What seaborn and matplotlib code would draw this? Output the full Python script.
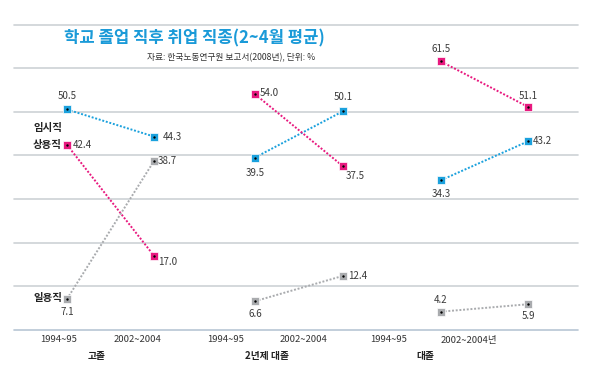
import matplotlib
matplotlib.use("Agg")

import matplotlib.pyplot as plt
import pandas as pd
import seaborn as sns

# --- dados ----------------------------------------------------------------
grupos = ["고졸", "2년제 대졸", "대졸"]
periodos = ["1994~95", "2002~2004"]
series = ["임시직", "상용직", "일용직"]

임시직 = [50.5, 44.3, 39.5, 50.1, 34.3, 43.2]
상용직 = [42.4, 17.0, 54.0, 37.5, 61.5, 51.1]
일용직 = [7.1, 38.7, 6.6, 12.4, 4.2, 5.9]

tick_labels = ["1994~95", "2002~2004", "1994~95", "2002~2004", "1994~95", "2002~2004년"]

# posições horizontais (layout, em px a partir da margem esquerda)
x_pontos = [53, 140, 241, 329, 427, 514]
x_ticks = [45, 124, 212, 290, 375, 455]
x_grupos = [83, 253, 411]

cores = {"임시직": "#1ba1dd", "상용직": "#e8197f", "일용직": "#a9abae"}

linhas = []
for nome, vals in zip(series, [임시직, 상용직, 일용직]):
    for i, v in enumerate(vals):
        linhas.append({"serie": nome, "grupo": grupos[i // 2], "x": x_pontos[i], "valor": v})
df = pd.DataFrame(linhas)

sns.set_style("white")
plt.rcParams["font.family"] = ["Noto Sans CJK KR", "DejaVu Sans"]

W, H = 590, 381
fig = plt.figure(figsize=(W / 100, H / 100), dpi=100)
ax = fig.add_axes([14 / W, (H - 330) / H, (578 - 14) / W, (330 - 68) / H])
ax.set_xlim(0, 564)
ax.set_ylim(0, 60)

for g in range(10, 70, 10):
    ax.axhline(g, color="#cdd2d6", lw=1.2, zorder=0)
ax.axhline(0, color="#b7c6d4", lw=1.2, zorder=0)

sns.lineplot(data=df, x="x", y="valor", hue="serie", units="grupo",
             estimator=None, palette=cores, legend=False, ax=ax,
             linestyle=(0, (1, 0.9)), lw=1.4, marker="s", markersize=6,
             markeredgecolor="white", markeredgewidth=0.5, zorder=3)
sns.scatterplot(data=df, x="x", y="valor", color="black", s=3,
                linewidth=0, legend=False, ax=ax, zorder=4)
for art in ax.lines + ax.collections:
    art.set_clip_on(False)

for s in ax.spines.values():
    s.set_visible(False)
ax.set_xticks([])
ax.set_yticks([])
ax.set_xlabel("")
ax.set_ylabel("")

# rótulos de valor: (dx, dy em px, alinhamento)
offsets = {
    "임시직": [(0, 13, "center"), (9, 0, "left"), (0, -15, "center"),
            (0, 14, "center"), (0, -14, "center"), (5, 0, "left")],
    "상용직": [(6, 0, "left"), (4, -6, "left"), (5, 1, "left"),
            (3, -10, "left"), (0, 12, "center"), (0, 11, "center")],
    "일용직": [(0, -13, "center"), (4, 0, "left"), (0, -13, "center"),
            (5, 0, "left"), (0, 12, "center"), (0, -12, "center")],
}
for nome, vals in zip(series, [임시직, 상용직, 일용직]):
    for i, v in enumerate(vals):
        dx, dy, ha = offsets[nome][i]
        ax.annotate(f"{v:.1f}", (x_pontos[i], v), xytext=(dx * 0.72, dy * 0.72),
                    textcoords="offset points", ha=ha, va="center",
                    fontsize=7, color="#3a3a3a", annotation_clip=False)

# rótulos das séries
ax.text(19, 46.2, "임시직", fontsize=7.5, fontweight="bold", color="#222222", va="center")
ax.text(19, 42.4, "상용직", fontsize=7.5, fontweight="bold", color="#222222", va="center")
ax.text(19, 7.4, "일용직", fontsize=7.5, fontweight="bold", color="#222222", va="center")

# eixo x
for xt, lab in zip(x_ticks, tick_labels):
    fig.text((14 + xt) / W, 1 - 340 / H, lab, ha="center", va="center",
             fontsize=6.8, color="#333333")
for xg, lab in zip(x_grupos, grupos):
    fig.text((14 + xg) / W, 1 - 356 / H, lab, ha="center", va="center",
             fontsize=7, fontweight="bold", color="#222222")

# título
fig.add_artist(plt.Line2D([14 / W, 578 / W], [1 - 25 / H, 1 - 25 / H],
                          color="#cdd2d6", lw=1.2))
fig.text(194 / W, 1 - 38 / H, "학교 졸업 직후 취업 직종(2~4월 평균)", ha="center",
         va="center", fontsize=12, fontweight="bold", color="#1a9ad8")
fig.text(315 / W, 1 - 58 / H, "자료: 한국노동연구원 보고서(2008년), 단위: %",
         ha="right", va="center", fontsize=6.3, color="#333333")

fig.savefig("out.png", dpi=100)
plt.close(fig)
